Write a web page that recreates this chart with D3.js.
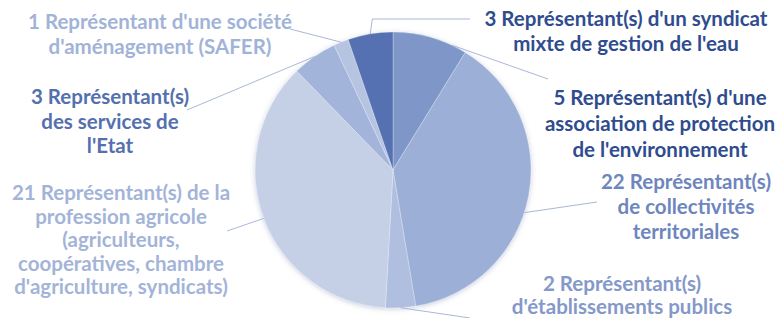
<!DOCTYPE html>
<html>
<head>
<meta charset="utf-8">
<script src="https://cdn.jsdelivr.net/npm/d3@7"></script>
<style>
    html, body { margin: 0; padding: 0; background: #fff; }
    svg { display: block; }
    .label { font-family: Lato, "Open Sans", sans-serif; font-weight: 700; font-size: 20.5px; }
</style>
</head>
<body>
<svg id="chart" width="776" height="318"></svg>
<script>
// Composition: number of representatives per group
const groups = [
    "association",
    "collectivites",
    "etablissements",
    "profession",
    "services",
    "safer",
    "syndicat",
];
const counts = [5, 22, 2, 21, 3, 1, 3];
const labelLines = [
    ["5 Représentant(s) d'une", "association de protection", "de l'environnement"],
    ["22 Représentant(s)", "de collectivités", "territoriales"],
    ["2 Représentant(s)", "d'établissements publics"],
    ["21 Représentant(s) de la", "profession agricole", "(agriculteurs,", "coopératives, chambre", "d'agriculture, syndicats)"],
    ["3 Représentant(s)", "des services de", "l'Etat"],
    ["1 Représentant d'une société", "d'aménagement (SAFER)"],
    ["3 Représentant(s) d'un syndicat", "mixte de gestion de l'eau"],
];

const sliceColors = ["#7f97c8", "#9cafd6", "#b0bfe0", "#c5d0e7", "#a3b4da", "#b6c4e2", "#5671b1"];
const textColors = ["#2f4c8f", "#6d86bd", "#8499c9", "#a3b4d8", "#5470ae", "#a2b3d8", "#2f4c8f"];

// label placement (x centre, first baseline, line step, leader end, where on slice the leader starts)
const layout = {
    association:    { x: 660, y: 105, step: 26, end: [548, 79], at: 0.8 },
    collectivites:  { x: 686, y: 189, step: 25, end: [597, 202], at: 0.55 },
    etablissements: { x: 622, y: 291, step: 22.5, end: [470, 318], at: 0.5 },
    profession:     { x: 121, y: 200, step: 23.5, end: [227, 231], at: 0.5 },
    services:       { x: 110, y: 104, step: 24.5, end: [187, 110], at: 0.5 },
    safer:          { x: 160, y: 29, step: 25, end: [290, 29], at: 0.5 },
    syndicat:       { x: 626, y: 26, step: 25, end: [470, 19], at: 0.5, elbow: true },
};

const width = 776;
const height = 318;
const cx = 393;
const cy = 170;
const radius = 138;

const svg = d3.select("#chart").attr("viewBox", [0, 0, width, height]);

const defs = svg.append("defs");
const shadow = defs.append("filter")
    .attr("id", "shadow")
    .attr("x", "-20%").attr("y", "-20%")
    .attr("width", "140%").attr("height", "140%");
shadow.append("feDropShadow")
    .attr("dx", 0).attr("dy", 1)
    .attr("stdDeviation", 2.5)
    .attr("flood-color", "#5a6f9e")
    .attr("flood-opacity", 0.35);

const color = d3.scaleOrdinal().domain(groups).range(sliceColors);
const textColor = d3.scaleOrdinal().domain(groups).range(textColors);

const pie = d3.pie().sort(null).value((d) => d.value);
const arcs = pie(groups.map((g, i) => ({ key: g, value: counts[i], lines: labelLines[i] })));

const arc = d3.arc().innerRadius(0).outerRadius(radius);

const g = svg.append("g").attr("transform", `translate(${cx},${cy})`);

g.append("g")
    .attr("filter", "url(#shadow)")
    .selectAll("path")
    .data(arcs)
    .join("path")
    .attr("d", arc)
    .attr("fill", (d) => color(d.data.key))
    .attr("stroke", "#ffffff")
    .attr("stroke-opacity", 0.35)
    .attr("stroke-width", 0.8);

// leader lines
const leaders = svg.append("g")
    .attr("fill", "none")
    .attr("stroke", "#a9b7d9")
    .attr("stroke-width", 1);

arcs.forEach((d) => {
    const L = layout[d.data.key];
    const a = d.startAngle + (d.endAngle - d.startAngle) * L.at;
    const sx = cx + Math.sin(a) * radius;
    const sy = cy - Math.cos(a) * radius;
    const pts = [[sx, sy]];
    if (L.elbow) pts.push([sx + 2, L.end[1]]);
    pts.push(L.end);
    leaders.append("path").attr("d", d3.line()(pts));
});

// labels
const labels = svg.append("g").attr("class", "label").attr("text-anchor", "middle");

arcs.forEach((d) => {
    const L = layout[d.data.key];
    const t = labels.append("text").attr("fill", textColor(d.data.key));
    d.data.lines.forEach((line, i) => {
        t.append("tspan")
            .attr("x", L.x)
            .attr("y", L.y + i * L.step)
            .text(line);
    });
});
</script>
</body>
</html>
